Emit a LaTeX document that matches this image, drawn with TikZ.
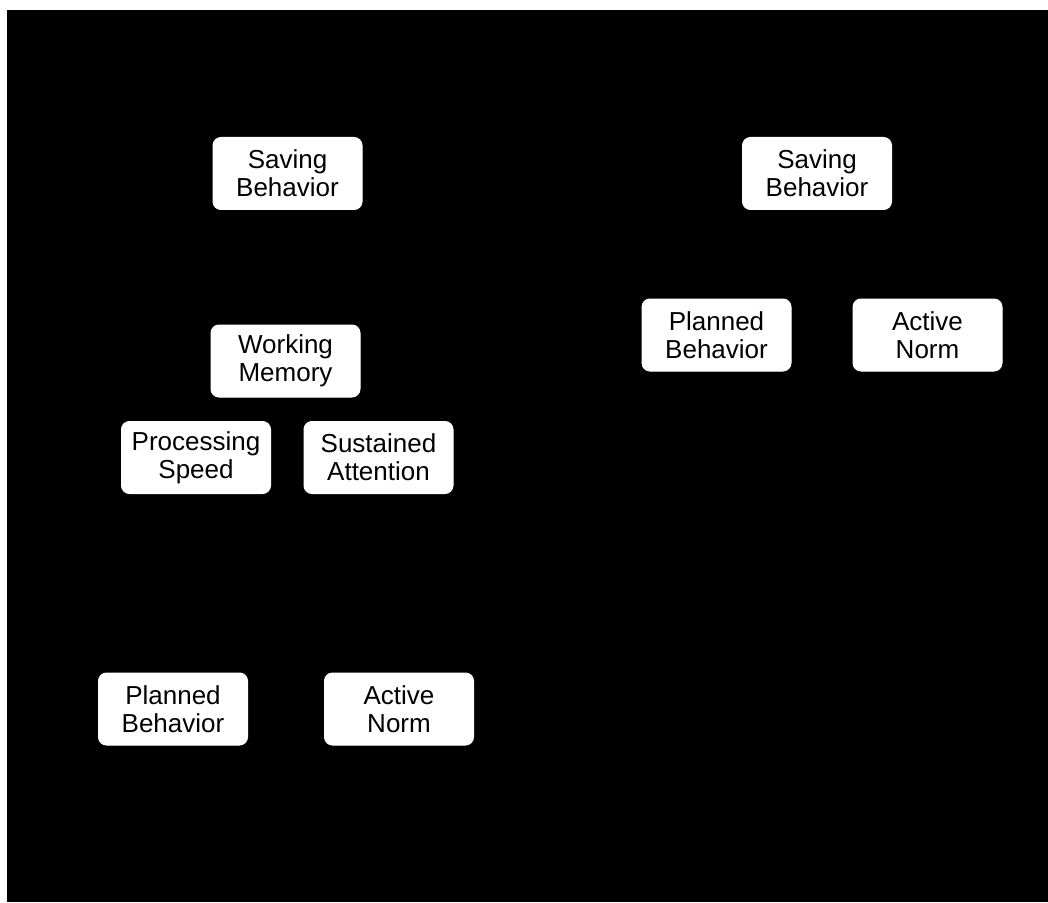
\documentclass[tikz,border=0pt]{standalone}
\usepackage{fontspec}
\setmainfont{Liberation Sans}
\tikzset{every picture/.style={line width=0.75pt}}
\tikzset{factorbox/.style={draw=white,fill=white,rounded corners=6pt,minimum width=111.75pt,minimum height=54pt,inner sep=0.75pt,align=center,font=\fontsize{19.5}{21}\selectfont,text=black}}

\begin{document}
\begin{tikzpicture}[x=0.75pt,y=0.75pt,yscale=-1,xscale=1]
\useasboundingbox (0,0) rectangle (1048,902);
%Shape: Rectangle [id:background]
\fill [white] (0,0) rectangle (1048,902);
\fill [black] (7,10) rectangle (1048,902);

%Left model
\node [factorbox] (savingL) at (287.5,173.5) {Saving\\Behavior};
\node [factorbox] (memory) at (285.5,361) {Working\\Memory};
\node [factorbox] (speed) at (196,457.5) {Processing\\Speed};
\node [factorbox] (attention) at (378.5,457.5) {Sustained\\Attention};
\node [factorbox] (plannedL) at (173,709) {Planned\\Behavior};
\node [factorbox] (normL) at (399,709) {Active\\Norm};

%Right model
\node [factorbox] (savingR) at (817,173.5) {Saving\\Behavior};
\node [factorbox] (plannedR) at (716.5,335) {Planned\\Behavior};
\node [factorbox] (normR) at (927.5,335) {Active\\Norm};

\end{tikzpicture}
\end{document}
